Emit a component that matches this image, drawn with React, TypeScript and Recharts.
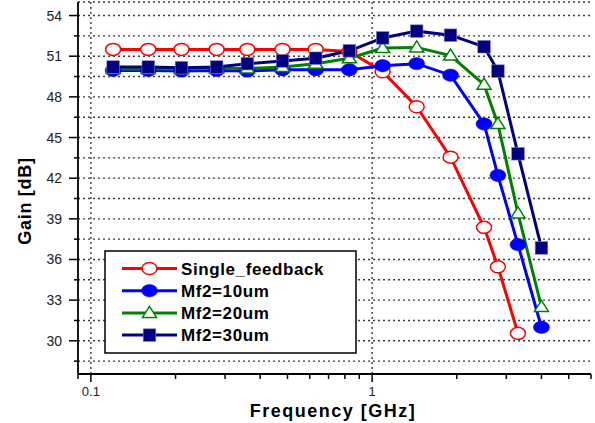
import React from 'react';
import { LineChart, Line, XAxis, YAxis, CartesianGrid, ReferenceLine } from 'recharts';

const freqs = [0.12, 0.16, 0.21, 0.28, 0.36, 0.48, 0.63, 0.83, 1.09, 1.44, 1.9, 2.5, 2.8, 3.3, 4.0];
const singleFeedback = [51.5, 51.5, 51.5, 51.5, 51.5, 51.5, 51.5, 51.35, 49.85, 47.27, 43.55, 38.37, 35.46, 30.55];
const mf2_10 = [49.95, 49.95, 49.9, 49.95, 49.9, 50.0, 50.0, 50.0, 50.3, 50.45, 49.6, 46.0, 42.2, 37.1, 31.0];
const mf2_20 = [50.05, 50.05, 50.05, 50.1, 50.1, 50.2, 50.45, 50.85, 51.6, 51.65, 51.05, 48.9, 46.0, 39.4, 32.5];
const mf2_30 = [50.2, 50.2, 50.15, 50.2, 50.45, 50.65, 50.85, 51.4, 52.35, 52.85, 52.55, 51.7, 49.9, 43.8, 36.85];

const seriesNames = ['Single_feedback', 'Mf2=10um', 'Mf2=20um', 'Mf2=30um'];
const seriesColors = ['#ff0000', '#0000ff', '#008000', '#000080'];

const xTicks = [0.09, 0.1, 0.2, 0.3, 0.4, 0.5, 0.6, 0.7, 0.8, 0.9, 1, 2, 3, 4, 5, 6];
const xMajor = [0.1, 1];
const yTicks = [28.5, 30, 31.5, 33, 34.5, 36, 37.5, 39, 40.5, 42, 43.5, 45, 46.5, 48, 49.5, 51, 52.5, 54];

const FONT = "Arial, 'Liberation Sans', sans-serif";

const toPts = (vals: number[]) => vals.map((g, i) => ({ f: freqs[i], g }));

const XTick = (props: any) => {
  const { x, y, payload } = props;
  const v = payload.value;
  const major = xMajor.some((m) => Math.abs(m - v) < 1e-9);
  return (
    <g>
      <line x1={x} y1={y} x2={x} y2={y + (major ? 8 : 5)} stroke="#000" strokeWidth={1.5} />
      {major && (
        <text x={x} y={y + 22} textAnchor="middle" fontSize={13} fill="#222" fontFamily={FONT}>
          {String(v)}
        </text>
      )}
    </g>
  );
};

const YTick = (props: any) => {
  const { x, y, payload } = props;
  const v = payload.value;
  const major = Math.abs(v / 3 - Math.round(v / 3)) < 1e-6;
  return (
    <g>
      <line x1={x} y1={y} x2={x - (major ? 9 : 4)} y2={y} stroke="#000" strokeWidth={1.5} />
      {major && (
        <text x={x - 16} y={y + 5} textAnchor="end" fontSize={14} fill="#222" fontFamily={FONT}>
          {String(v)}
        </text>
      )}
    </g>
  );
};

const Marker = ({ kind, cx, cy }: { kind: number; cx: number; cy: number }) => {
  const c = seriesColors[kind];
  if (kind === 0) return <ellipse cx={cx} cy={cy} rx={7.5} ry={6} fill="#fff" stroke={c} strokeWidth={1.5} />;
  if (kind === 1) return <ellipse cx={cx} cy={cy} rx={8} ry={6.2} fill={c} stroke={c} strokeWidth={0.5} />;
  if (kind === 2)
    return (
      <polygon
        points={`${cx},${cy - 6.5} ${cx + 7},${cy + 4.5} ${cx - 7},${cy + 4.5}`}
        fill="#fff"
        stroke={c}
        strokeWidth={1.5}
      />
    );
  return <rect x={cx - 6.3} y={cy - 6.3} width={12.6} height={12.6} fill={c} stroke="#7f7fbf" strokeWidth={0.6} />;
};

const makeDot = (kind: number) => (props: any) => {
  const { cx, cy, index } = props;
  if (cx == null || cy == null) return <g key={`d${kind}-${index}`} />;
  return (
    <g key={`d${kind}-${index}`}>
      <Marker kind={kind} cx={cx} cy={cy} />
    </g>
  );
};

const allSeries = [singleFeedback, mf2_10, mf2_20, mf2_30];

export default function App() {
  return (
    <div style={{ position: 'absolute', left: 0, top: 0, width: 595, height: 423, background: '#fff' }}>
      <LineChart width={595} height={423} margin={{ top: 2, right: 4, bottom: 0, left: 0 }}>
        <CartesianGrid vertical={false} stroke="#3a3a3a" strokeDasharray="2 3" strokeWidth={1.4} />
        <XAxis
          dataKey="f"
          type="number"
          scale="log"
          domain={[0.09, 6]}
          ticks={xTicks}
          allowDataOverflow
          height={49}
          tickSize={0}
          tickMargin={0}
          tick={<XTick />}
          interval={0}
          axisLine={{ stroke: '#000', strokeWidth: 1.8 }}
        />
        <YAxis
          type="number"
          domain={[27.55, 55]}
          ticks={yTicks}
          allowDataOverflow
          width={78}
          tickSize={0}
          tickMargin={0}
          tick={<YTick />}
          interval={0}
          axisLine={{ stroke: '#000', strokeWidth: 1.8 }}
        />
        <ReferenceLine x={0.1} stroke="#3a3a3a" strokeDasharray="2 3" strokeWidth={1.4} />
        <ReferenceLine x={1} stroke="#3a3a3a" strokeDasharray="2 3" strokeWidth={1.4} />
        {allSeries.map((vals, k) => (
          <Line
            key={seriesNames[k]}
            data={toPts(vals)}
            dataKey="g"
            name={seriesNames[k]}
            type="linear"
            stroke={seriesColors[k]}
            strokeWidth={3}
            dot={makeDot(k)}
            activeDot={false}
            isAnimationActive={false}
          />
        ))}
      </LineChart>
      <svg
        width={595}
        height={423}
        style={{ position: 'absolute', left: 0, top: 0, pointerEvents: 'none' }}
      >
        <rect x={105} y={251} width={251} height={102} fill="#fff" stroke="#000" strokeWidth={1.5} />
        {seriesNames.map((n, k) => {
          const cy = 268.5 + k * 22.2;
          return (
            <g key={n}>
              <line x1={122} y1={cy} x2={177} y2={cy} stroke={seriesColors[k]} strokeWidth={3} />
              <Marker kind={k} cx={149.5} cy={cy} />
              <text
                x={181}
                y={cy + 6}
                fontSize={17}
                fontWeight="bold"
                letterSpacing={0.6}
                fill="#000"
                fontFamily={FONT}
              >
                {n}
              </text>
            </g>
          );
        })}
        <text
          transform="translate(24,201) rotate(-90)"
          x={0}
          y={6.5}
          textAnchor="middle"
          fontSize={18}
          fontWeight="bold"
          letterSpacing={0.7}
          fill="#000"
          fontFamily={FONT}
        >
          Gain [dB]
        </text>
        <text
          x={333}
          y={417}
          textAnchor="middle"
          fontSize={18}
          fontWeight="bold"
          letterSpacing={1.5}
          fill="#000"
          fontFamily={FONT}
        >
          Frequency [GHz]
        </text>
      </svg>
    </div>
  );
}
